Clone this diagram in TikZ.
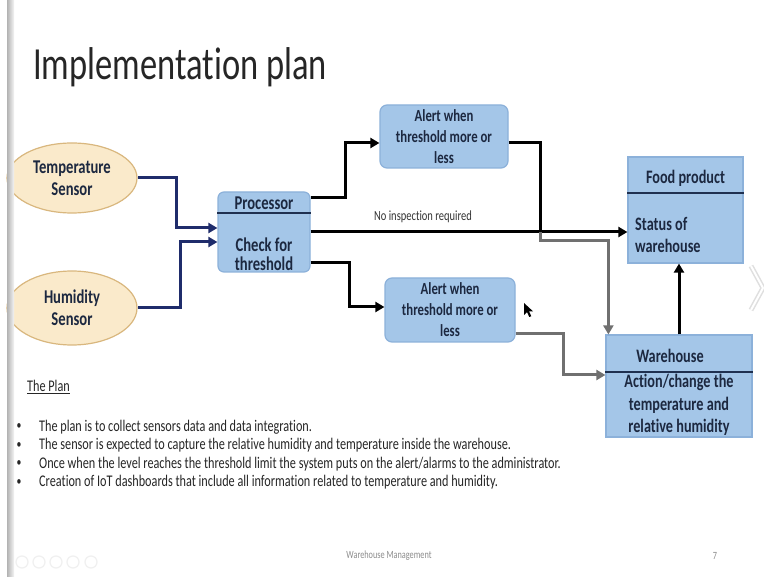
\documentclass[tikz,border=0pt]{standalone}
\usepackage{fontspec}
\setmainfont{Carlito}[FakeStretch=0.75, Ligatures=NoCommon]
\usetikzlibrary{shapes.geometric,arrows.meta,calc}

\definecolor{boxfill}{HTML}{A4C6E8}
\definecolor{boxline}{HTML}{8CB1DA}
\definecolor{divline}{HTML}{1F3050}
\definecolor{boxtext}{HTML}{1C2840}
\definecolor{sensfill}{HTML}{FAEACB}
\definecolor{sensline}{HTML}{D9B77E}
\definecolor{navy}{HTML}{1F2C6B}
\definecolor{greyline}{HTML}{707070}

\begin{document}
\begin{tikzpicture}[x=1pt,y=-1pt,
  sensor/.style={ellipse, draw=sensline, line width=1.2pt, fill=sensfill, inner sep=0pt,
    text=boxtext, font=\fontsize{19.5}{22}\selectfont\bfseries, align=center},
  bluebox/.style={draw=boxline, line width=1.2pt, fill=boxfill, inner sep=0pt},
  alertbox/.style={bluebox, rounded corners=7pt, text=boxtext,
    font=\fontsize{17}{21}\selectfont\bfseries, align=center},
  boxlabel/.style={text=boxtext, inner sep=0pt, align=center,
    font=\fontsize{19.5}{19}\selectfont\bfseries},
  biglabel/.style={text=boxtext, inner sep=0pt, align=center,
    font=\fontsize{19}{22.5}\selectfont\bfseries},
  divider/.style={draw=divline, line width=2.2pt},
  tip/.style={-{Triangle[length=9pt,width=10pt]}},
  feed/.style={draw=navy, line width=3pt, tip},
  flow/.style={draw=black, line width=3pt, tip},
  grayflow/.style={draw=greyline, line width=3pt, tip},
  plain/.style={inner sep=0pt, text=black!85, font=\fontsize{16.3}{18.5}\selectfont},
]
\fill[white] (0,0) rectangle (764,577);
\useasboundingbox (0,0) rectangle (764,577);

% title
\node[anchor=base west, inner sep=0pt, text=black!85, font=\fontsize{46}{50}\selectfont]
  (title) at (33,80) {Implementation plan};

% sensors
\node[sensor, minimum width=130pt, minimum height=70pt] (te) at (72,178) {Temperature\\Sensor};
\node[sensor, minimum width=130pt, minimum height=74pt] (hu) at (72,308) {Humidity\\Sensor};

% processor
\node[bluebox, rounded corners=6pt, minimum width=92pt, minimum height=80pt] (pr) at (264,232) {};
\draw[divider] (pr.west |- 0,213) -- (pr.east |- 0,213);
\node[boxlabel] (prt) at (264,203) {Processor};
\node[boxlabel] (prb) at (264,254) {Check for\\threshold};

% alerts
\node[alertbox, minimum width=128pt, minimum height=63pt] (a1) at (444,136.5) {Alert when\\threshold more or\\less};
\node[alertbox, minimum width=130pt, minimum height=64pt] (a2) at (450,310) {Alert when\\threshold more or\\less};

% food product
\node[bluebox, minimum width=115pt, minimum height=106pt] (fo) at (685.5,210) {};
\draw[divider] (fo.west |- 0,193) -- (fo.east |- 0,193);
\node[biglabel] (fot) at (685.5,178) {Food product};
\node[biglabel, anchor=west, align=left] (fob) at (635,235) {Status of\\warehouse};

% warehouse
\node[bluebox, minimum width=146pt, minimum height=102pt] (wh) at (679,386) {};
\draw[divider] (wh.west |- 0,372) -- (wh.east |- 0,372);
\node[biglabel] (wht) at (670,356) {Warehouse};
\node[biglabel] (whb) at (679,405) {Action/change the\\temperature and\\relative humidity};

% sensor feeds
\draw[feed] (te.east) -- ++(39,0) |- ($(pr.west)+(0,-4)$);
\draw[feed] (hu.east) -- ++(43,0) |- ($(pr.west)+(0,10)$);

% processor outputs
\draw[flow] ($(pr.east)+(0,-34)$) -- ++(35,0) |- ($(a1.west)+(0,6.5)$);
\draw[flow] (pr.east) -- (pr.east -| fo.west);
\draw[flow] ($(pr.east)+(0,31)$) -- ++(39,0) |- ($(a2.west)+(0,-3)$);
\node[inner sep=0pt, text=black!80, font=\fontsize{14}{16}\selectfont] (noinsp) at (423,217) {No inspection required};

% alerts to warehouse
\draw[black, line width=3pt] ($(a1.east)+(0,6)$) -- ++(32,0) -- ++(0,90) coordinate (bend);
\draw[grayflow] (bend) -- ++(0,8) -| ($(wh.north west)+(3,0)$);
\draw[grayflow] ($(a2.east)+(0,24)$) -- ++(48,0) |- ($(wh.west)+(0,-11)$);

% warehouse to food product
\draw[flow] (wh.north) -- (wh.north |- fo.south);

% mouse pointer
\fill[black] (524,303) -- (524,315) -- (527,312) -- (529.3,317) -- (531.3,316.2) -- (529,311.3) -- (533,311.3) -- cycle;

% slide navigation chevron
\draw[gray!25, line width=5pt, line join=miter] (751,266) -- (763,288) -- (751,310);
\draw[white, line width=2pt, line join=miter] (751,266) -- (763,288) -- (751,310);

% plan text
\node[plain, anchor=west] (plan) at (27,387) {\underline{The Plan}};
\foreach \y/\t [count=\i] in {
  427/{The plan is to collect sensors data and data integration.},
  445.5/{The sensor is expected to capture the relative humidity and temperature inside the warehouse.},
  464/{Once when the level reaches the threshold limit the system puts on the alert/alarms to the administrator.},
  482.5/{Creation of IoT dashboards that include all information related to temperature and humidity.}} {
  \node[plain, font=\fontsize{13}{14}\selectfont] (dot\i) at (19,\y) {\textbullet};
  \node[plain, anchor=west] (item\i) at (39,\y) {\t};
}

% footer
\node[inner sep=0pt, text=black!45, font=\fontsize{11}{12}\selectfont] (foot) at (389,556) {Warehouse Management};
\node[inner sep=0pt, text=black!45, font=\fontsize{11}{12}\selectfont] (page) at (715,556) {7};
\foreach \x in {22,39,56,73,91}
  \draw[gray!12, line width=1.2pt] (\x,562) circle[radius=6pt];

% slide edge
\shade[left color=gray!60, right color=gray!8] (7,0) rectangle (14,577);
\end{tikzpicture}
\end{document}
